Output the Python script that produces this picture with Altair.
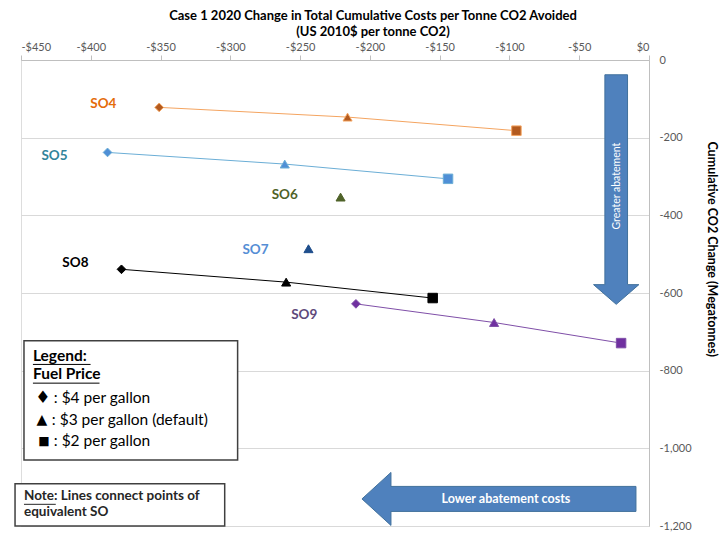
import altair as alt
import pandas as pd

# ---- data ----
series = ["SO4", "SO4", "SO4", "SO5", "SO5", "SO5", "SO6", "SO7",
          "SO8", "SO8", "SO8", "SO9", "SO9", "SO9"]
fuel_price = ["$4", "$3", "$2", "$4", "$3", "$2", "$3", "$3",
              "$4", "$3", "$2", "$4", "$3", "$2"]
cost_per_tonne = [-351, -216, -95, -388, -261, -144, -221, -244,
                  -378, -260, -155, -210, -111, -20]
co2_change = [-122, -147, -182, -238, -268, -306, -353, -486,
              -539, -572, -613, -628, -676, -729]

label_names = ["SO4", "SO5", "SO6", "SO7", "SO8", "SO9"]
label_cost = [-391, -426, -261, -282, -411, -247]
label_co2 = [-114, -248, -347, -489, -522, -656]

x_ticks = [-450, -400, -350, -300, -250, -200, -150, -100, -50, 0]
y_ticks = [0, -200, -400, -600, -800, -1000, -1200]

df = pd.DataFrame({"series": series, "price": fuel_price,
                   "cost": cost_per_tonne, "co2": co2_change})
lab = pd.DataFrame({"series": label_names, "cost": label_cost, "co2": label_co2})

# ---- styles ----
W, H = 628, 466
FONT = "Lato"
names = ["SO4", "SO5", "SO6", "SO7", "SO8", "SO9"]
line_col = ["#F4A460", "#6BAED6", "#4F6228", "#1F4E8C", "#000000", "#7F4FA8"]
line_w = [1, 1, 1, 1, 2.4, 1.5]
fill_col = ["#B35A1F", "#4F8FD6", "#4F6228", "#1F4E8C", "#000000", "#7030A0"]
stroke_col = ["#B35A1F", "#4F8FD6", "#4F6228", "#1F4E8C", "#000000", "#3B1E57"]
text_col = ["#E46C0A", "#31849B", "#4F6228", "#558ED5", "#000000", "#604A7B"]


def X(xp):  # reference page x -> plot coordinate
    return (xp - 17) * W / 632


def Y(yp):  # reference page y -> plot coordinate
    return (yp - 60) * H / 473


xscale = alt.Scale(domain=[-450, 0])
yscale = alt.Scale(domain=[-1200, 0])

xenc = alt.X("cost:Q", scale=xscale, axis=alt.Axis(
    orient="top", values=x_ticks, grid=False, title=None,
    labelExpr="datum.value < 0 ? '-$' + abs(datum.value) : '$' + datum.value",
    tickSize=5, tickColor="#BFBFBF", domainColor="#BFBFBF",
    labelColor="#595959", labelFontSize=11, labelFont=FONT, labelPadding=3))
yenc = alt.Y("co2:Q", scale=yscale, axis=alt.Axis(
    orient="right", values=y_ticks, grid=True, gridColor="#D9D9D9", title=None,
    labelExpr="datum.value < 0 ? '-' + format(abs(datum.value), ',') : '0'",
    ticks=False, domainColor="#BFBFBF", labelColor="#595959",
    labelFontSize=11, labelFont=FONT, labelPadding=10))

lines = alt.Chart(df).mark_line().encode(
    x=xenc, y=yenc,
    detail="series:N",
    order="cost:Q",
    stroke=alt.Stroke("series:N", scale=alt.Scale(domain=names, range=line_col), legend=None),
    strokeWidth=alt.StrokeWidth("series:N", scale=alt.Scale(domain=names, range=line_w), legend=None),
)

points = alt.Chart(df).mark_point(filled=True, opacity=1, strokeWidth=1).encode(
    x=alt.X("cost:Q", scale=xscale),
    y=alt.Y("co2:Q", scale=yscale),
    shape=alt.Shape("price:N", scale=alt.Scale(domain=["$4", "$3", "$2"],
                                               range=["diamond", "triangle-up", "square"]), legend=None),
    size=alt.Size("price:N", scale=alt.Scale(domain=["$4", "$3", "$2"], range=[75, 90, 100]), legend=None),
    fill=alt.Fill("series:N", scale=alt.Scale(domain=names, range=fill_col), legend=None),
    stroke=alt.Stroke("series:N", scale=alt.Scale(domain=names, range=stroke_col), legend=None),
)

labels = alt.Chart(lab).mark_text(fontSize=13.5, fontWeight="bold", font=FONT).encode(
    x=alt.X("cost:Q", scale=xscale),
    y=alt.Y("co2:Q", scale=yscale),
    text="series:N",
    color=alt.Color("series:N", scale=alt.Scale(domain=names, range=text_col), legend=None),
)

ann = alt.Chart(pd.DataFrame({"a": [0]}))

# arrows as custom symbol paths (1 unit = 100 px)
v_arrow = ann.mark_point(
    shape="M-0.115,-1.165 L0.115,-1.165 L0.115,0.965 L0.23,0.965 L0,1.165 L-0.23,0.965 L-0.115,0.965 Z",
    filled=True, fill="#4F81BD", stroke="#41719C", strokeWidth=1, opacity=1, size=40000 * (H / 473) ** 2,
).encode(x=alt.value(X(616)), y=alt.value(Y(191.5)))
v_text = ann.mark_text(text="Greater abatement", angle=270, color="white", fontSize=10.5, font=FONT).encode(
    x=alt.value(X(617)), y=alt.value(Y(188)))

h_arrow = ann.mark_point(
    shape="M1.37,-0.125 L-1.08,-0.125 L-1.08,-0.265 L-1.37,0 L-1.08,0.265 L-1.08,0.125 L1.37,0.125 Z",
    filled=True, fill="#4F81BD", stroke="#41719C", strokeWidth=1, opacity=1, size=40000,
).encode(x=alt.value(X(498)), y=alt.value(Y(505.5)))
h_text = ann.mark_text(text="Lower abatement costs", color="white", fontSize=12.5, fontWeight="bold",
                       font=FONT).encode(x=alt.value(X(505)), y=alt.value(Y(506)))

# legend box
LEG_FS = 15.5
leg_box = ann.mark_rect(fill="white", stroke="#404040", strokeWidth=1.5).encode(
    x=alt.value(X(20)), x2=alt.value(X(235)), y=alt.value(Y(345)), y2=alt.value(Y(466)))
leg_title1 = ann.mark_text(text="Legend:", align="left", fontSize=LEG_FS, fontWeight="bold", font=FONT,
                           color="black").encode(x=alt.value(X(29)), y=alt.value(Y(360)))
leg_title2 = ann.mark_text(text="Fuel Price", align="left", fontSize=LEG_FS, fontWeight="bold", font=FONT,
                           color="black").encode(x=alt.value(X(29)), y=alt.value(Y(379)))
ul1 = ann.mark_rule(color="black", strokeWidth=1).encode(
    x=alt.value(X(29)), x2=alt.value(X(87)), y=alt.value(Y(369)))
ul2 = ann.mark_rule(color="black", strokeWidth=1).encode(
    x=alt.value(X(29)), x2=alt.value(X(96)), y=alt.value(Y(388)))
leg_rows = [
    ("\u2666", 17, 39, ": $4 per gallon", 50, 403),
    ("\u25B2", 14, 38, ":  $3 per gallon (default)", 48, 425),
    ("\u25A0", 12, 40, ":  $2 per gallon", 50, 447),
]
leg_layers = []
for sym, sfs, sx, txt, tx, yy in leg_rows:
    leg_layers.append(ann.mark_text(text=sym, fontSize=sfs, font="DejaVu Sans", color="black").encode(
        x=alt.value(X(sx)), y=alt.value(Y(yy))))
    leg_layers.append(ann.mark_text(text=txt, align="left", fontSize=LEG_FS, font=FONT, color="black").encode(
        x=alt.value(X(tx)), y=alt.value(Y(yy))))

# note box
note_box = ann.mark_rect(fill="white", stroke="#404040", strokeWidth=1.5).encode(
    x=alt.value(X(11)), x2=alt.value(X(222)), y=alt.value(Y(490)), y2=alt.value(Y(533)))
note1 = ann.mark_text(text="Note: Lines connect points of", align="left", fontSize=13.5, fontWeight="bold",
                      font=FONT, color="#262626").encode(x=alt.value(X(20)), y=alt.value(Y(503)))
note2 = ann.mark_text(text="equivalent SO", align="left", fontSize=13.5, fontWeight="bold",
                      font=FONT, color="#262626").encode(x=alt.value(X(20)), y=alt.value(Y(519)))
note_ul = ann.mark_rule(color="#262626", strokeWidth=1).encode(
    x=alt.value(X(20)), x2=alt.value(X(52)), y=alt.value(Y(511)))

ytitle = ann.mark_text(text="Cumulative CO2 Change (Megatonnes)", angle=90, fontSize=12.5,
                       fontWeight="bold", font=FONT, color="black").encode(
    x=alt.value(W + 63), y=alt.value(Y(252)))

chart = alt.layer(
    lines, points, labels, v_arrow, v_text, h_arrow, h_text,
    leg_box, leg_title1, leg_title2, ul1, ul2, *leg_layers,
    note_box, note1, note2, note_ul, ytitle,
).properties(
    width=W, height=H,
    autosize=alt.AutoSizeParams(type="none"),
    padding={"left": 13, "top": 52, "right": 71, "bottom": 6},
    title=alt.Title(text=["Case 1 2020 Change in Total Cumulative Costs per Tonne CO2 Avoided",
                          "(US 2010$ per tonne CO2)"],
                    fontSize=13, font=FONT, fontWeight="bold", color="black",
                    dx=38, offset=2, lineHeight=16, anchor="middle"),
).configure_view(stroke=None).configure(background="white")

chart.save("out.html", embed_options={"renderer": "svg", "actions": False})
